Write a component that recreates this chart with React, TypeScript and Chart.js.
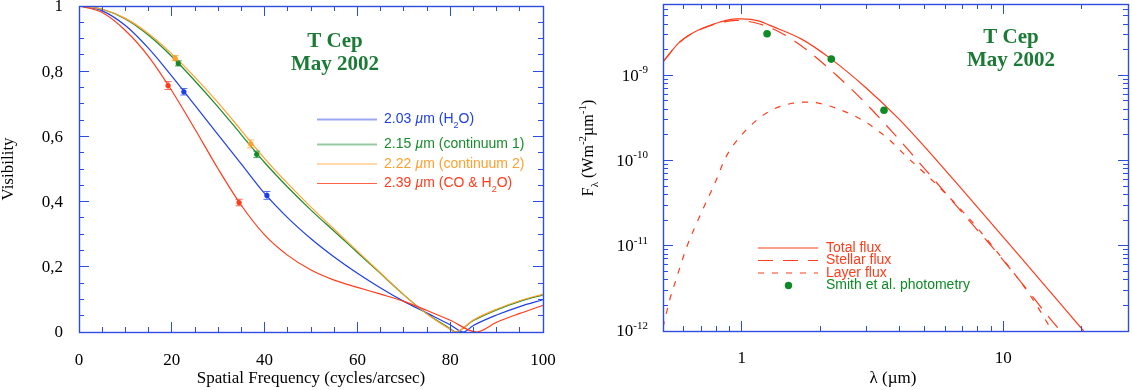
import { useEffect, useRef } from 'react';
import { Chart, registerables } from 'chart.js';

Chart.register(...registerables);

// ---------------- Left panel: visibility vs spatial frequency ----------------
const FREQ_BLUE = [0, 5, 10, 15, 20, 25, 30, 35, 40, 45, 50, 55, 60, 65, 70, 75, 80, 82.8, 85, 90, 95, 100];
const VIS_BLUE = [1, 0.985, 0.94, 0.87, 0.785, 0.695, 0.605, 0.515, 0.425, 0.35, 0.286, 0.23, 0.18, 0.135, 0.094, 0.058, 0.022, 0, 0.02, 0.052, 0.078, 0.099];

const FREQ_GREEN = [0, 5, 10, 15, 20, 25, 30, 35, 40, 45, 50, 55, 60, 65, 70, 75, 80, 81.1, 85, 90, 95, 100];
const VIS_GREEN = [1, 0.99, 0.96, 0.91, 0.845, 0.77, 0.69, 0.605, 0.52, 0.444, 0.374, 0.309, 0.244, 0.179, 0.114, 0.056, 0.01, 0, 0.035, 0.068, 0.094, 0.114];

const FREQ_ORANGE = [0, 5, 10, 15, 20, 25, 30, 35, 40, 45, 50, 55, 60, 65, 70, 75, 80, 81.1, 85, 90, 95, 100];
const VIS_ORANGE = [1, 0.99, 0.962, 0.915, 0.853, 0.781, 0.703, 0.618, 0.532, 0.455, 0.383, 0.315, 0.248, 0.181, 0.114, 0.055, 0.008, 0, 0.037, 0.07, 0.096, 0.116];

const FREQ_RED = [0, 5, 10, 15, 20, 25, 30, 35, 40, 45, 50, 55, 60, 65, 70, 75, 80, 85.7, 90, 95, 100];
const VIS_RED = [1, 0.98, 0.925, 0.845, 0.74, 0.622, 0.5, 0.388, 0.298, 0.235, 0.19, 0.159, 0.137, 0.116, 0.094, 0.066, 0.036, 0, 0.03, 0.057, 0.082];

// measured points with error bars
const OBS_FREQ_BLUE = [22.6, 40.5];
const OBS_VIS_BLUE = [0.737, 0.419];
const OBS_ERR_BLUE = [0.01, 0.012];
const OBS_FREQ_GREEN = [21.4, 38.3];
const OBS_VIS_GREEN = [0.824, 0.545];
const OBS_ERR_GREEN = [0.008, 0.01];
const OBS_FREQ_ORANGE = [20.7, 37.0];
const OBS_VIS_ORANGE = [0.84, 0.577];
const OBS_ERR_ORANGE = [0.008, 0.012];
const OBS_FREQ_RED = [19.2, 34.5];
const OBS_VIS_RED = [0.756, 0.397];
const OBS_ERR_RED = [0.012, 0.01];

const LEFT_X_TICKS = [0, 20, 40, 60, 80, 100];
const LEFT_X_LABELS = ['0', '20', '40', '60', '80', '100'];
const LEFT_Y_TICKS = [0, 0.2, 0.4, 0.6, 0.8, 1];
const LEFT_Y_LABELS = ['0', '0,2', '0,4', '0,6', '0,8', '1'];

// ---------------- Right panel: spectral energy distribution ----------------
const TOTAL_LAMBDA = [0.5, 0.58, 0.69, 0.823, 0.95, 1.0, 1.17, 1.274, 1.7, 2.2, 2.97, 3.97, 5.0, 6.51, 11.67, 20.3];
const TOTAL_FLUX = [1.44e-9, 2.47e-9, 3.45e-9, 4.2e-9, 4.6e-9, 4.6e-9, 4.33e-9, 3.88e-9, 2.64e-9, 1.55e-9, 7.25e-10, 3.13e-10, 1.46e-10, 5.8e-11, 7.3e-12, 1e-12];

const STELLAR_LAMBDA = [0.5, 0.58, 0.69, 0.823, 0.95, 1.17, 1.45, 1.78, 2.31, 2.97, 3.74, 4.52, 5.8, 7.32, 9.1, 12.0, 15.85, 16.6];
const STELLAR_FLUX = [1.44e-9, 2.46e-9, 3.42e-9, 4.12e-9, 4.42e-9, 4.0e-9, 3.02e-9, 1.97e-9, 9.95e-10, 4.74e-10, 2.22e-10, 1.15e-10, 4.74e-11, 2.06e-11, 9.55e-12, 3.4e-12, 1.17e-12, 1.0e-12];

const LAYER_LAMBDA = [0.5, 0.53, 0.565, 0.615, 0.69, 0.79, 0.87, 1.0, 1.24, 1.56, 1.8, 2.28, 2.97, 3.74, 4.21, 5.47, 7.11, 9.25, 12.7, 15.4];
const LAYER_FLUX = [1.1e-12, 2.3e-12, 4.3e-12, 9.5e-12, 2.2e-11, 5.45e-11, 1.1e-10, 2.0e-10, 3.6e-10, 4.7e-10, 4.85e-10, 4.15e-10, 2.84e-10, 1.66e-10, 1.16e-10, 5.5e-11, 2.4e-11, 9.3e-12, 2.6e-12, 1.0e-12];

const PHOT_LAMBDA = [1.25, 2.2, 3.5];
const PHOT_FLUX = [3.08e-9, 1.55e-9, 3.89e-10];

const RIGHT_X_TICKS = [1, 10];
const RIGHT_X_LABELS = ['1', '10'];
const RIGHT_Y_EXPONENTS = [-12, -11, -10, -9];

const TITLE_LINES = ['T Cep', 'May 2002'];

type Seg = { t: string; i?: boolean; sub?: boolean; sup?: boolean };

const LEFT_LEGEND: Seg[][] = [
  [{ t: '2.03 ' }, { t: 'µ', i: true }, { t: 'm (H' }, { t: '2', sub: true }, { t: 'O)' }],
  [{ t: '2.15 ' }, { t: 'µ', i: true }, { t: 'm (continuum 1)' }],
  [{ t: '2.22 ' }, { t: 'µ', i: true }, { t: 'm (continuum 2)' }],
  [{ t: '2.39 ' }, { t: 'µ', i: true }, { t: 'm (CO & H' }, { t: '2', sub: true }, { t: 'O)' }],
];
const RIGHT_LEGEND = ['Total flux', 'Stellar flux', 'Layer flux', 'Smith et al. photometry'];

const X_TITLE_LEFT = 'Spatial Frequency (cycles/arcsec)';
const Y_TITLE_LEFT = 'Visibility';
const X_TITLE_RIGHT: Seg[] = [{ t: 'λ (µm)' }];
const Y_TITLE_RIGHT: Seg[] = [{ t: 'F' }, { t: 'λ', sub: true }, { t: ' (Wm' }, { t: '-2', sup: true }, { t: 'µm' }, { t: '-1', sup: true }, { t: ')' }];

// ---------------- styling ----------------
const SERIF = '"Liberation Serif", "DejaVu Serif", serif';
const SANS = '"Liberation Sans", Arial, sans-serif';
const FRAME = '#2d4de0';
const C_BLUE = '#1f3fe6';
const C_GREEN = '#178a2a';
const C_ORANGE = '#ffa02e';
const C_RED = '#ff3c1c';
const C_TITLE = '#1b7a35';
const C_PHOT = '#0e8a26';

function pts(xs: number[], ys: number[]) {
  return xs.map((x, i) => ({ x, y: ys[i] }));
}

function crisp(v: number) {
  return Math.round(v - 0.5) + 0.5;
}

function drawRich(ctx: CanvasRenderingContext2D, segs: Seg[], x: number, y: number, size: number, family: string, color: string, align: 'left' | 'center' | 'right', weight = 'normal') {
  const small = Math.round(size * 0.66);
  const fontFor = (s: Seg) => `${s.i ? 'italic ' : ''}${weight} ${s.sub || s.sup ? small : size}px ${family}`;
  let total = 0;
  const widths = segs.map((s) => {
    ctx.font = fontFor(s);
    const w = ctx.measureText(s.t).width;
    total += w;
    return w;
  });
  let cx = align === 'left' ? x : align === 'center' ? x - total / 2 : x - total;
  ctx.fillStyle = color;
  ctx.textAlign = 'left';
  ctx.textBaseline = 'middle';
  segs.forEach((s, k) => {
    ctx.font = fontFor(s);
    const dy = s.sub ? size * 0.4 : s.sup ? -size * 0.36 : 0;
    ctx.fillText(s.t, cx, y + dy);
    cx += widths[k];
  });
}

function drawFrameTicks(chart: any, xt: { v: number; major: boolean }[], yt: { v: number; major: boolean }[]) {
  const { ctx, chartArea: a, scales } = chart;
  ctx.save();
  ctx.strokeStyle = FRAME;
  ctx.lineWidth = 1;
  ctx.beginPath();
  xt.forEach((t) => {
    const x = crisp(scales.x.getPixelForValue(t.v));
    const len = t.major ? 10 : 5;
    ctx.moveTo(x, a.bottom);
    ctx.lineTo(x, a.bottom - len);
    ctx.moveTo(x, a.top);
    ctx.lineTo(x, a.top + len);
  });
  yt.forEach((t) => {
    const y = crisp(scales.y.getPixelForValue(t.v));
    const len = t.major ? 10 : 5;
    ctx.moveTo(a.left, y);
    ctx.lineTo(a.left + len, y);
    ctx.moveTo(a.right, y);
    ctx.lineTo(a.right - len, y);
  });
  ctx.stroke();
  ctx.lineWidth = 1.4;
  ctx.strokeRect(crisp(a.left), crisp(a.top), Math.round(a.right - a.left), Math.round(a.bottom - a.top));
  ctx.restore();
}

function drawTitle(ctx: CanvasRenderingContext2D, cx: number, y0: number) {
  ctx.save();
  ctx.fillStyle = C_TITLE;
  ctx.font = `bold 21px ${SERIF}`;
  ctx.textAlign = 'center';
  ctx.textBaseline = 'middle';
  TITLE_LINES.forEach((line, i) => ctx.fillText(line, cx, y0 + i * 22.5));
  ctx.restore();
}

const OBS = [
  { xs: OBS_FREQ_BLUE, ys: OBS_VIS_BLUE, es: OBS_ERR_BLUE, c: C_BLUE },
  { xs: OBS_FREQ_GREEN, ys: OBS_VIS_GREEN, es: OBS_ERR_GREEN, c: C_GREEN },
  { xs: OBS_FREQ_ORANGE, ys: OBS_VIS_ORANGE, es: OBS_ERR_ORANGE, c: C_ORANGE },
  { xs: OBS_FREQ_RED, ys: OBS_VIS_RED, es: OBS_ERR_RED, c: C_RED },
];

const leftPlugin = {
  id: 'leftDecor',
  afterDatasetsDraw(chart: any) {
    const { ctx, scales } = chart;
    ctx.save();
    OBS.forEach((o) => {
      o.xs.forEach((xv, i) => {
        const x = scales.x.getPixelForValue(xv);
        const y1 = scales.y.getPixelForValue(o.ys[i] + o.es[i]);
        const y2 = scales.y.getPixelForValue(o.ys[i] - o.es[i]);
        ctx.strokeStyle = o.c;
        ctx.globalAlpha = 0.75;
        ctx.lineWidth = 1;
        ctx.beginPath();
        ctx.moveTo(x, y1);
        ctx.lineTo(x, y2);
        ctx.moveTo(x - 3.5, y1);
        ctx.lineTo(x + 3.5, y1);
        ctx.moveTo(x - 3.5, y2);
        ctx.lineTo(x + 3.5, y2);
        ctx.stroke();
      });
    });
    ctx.restore();
  },
  afterDraw(chart: any) {
    const { ctx, scales } = chart;
    const xt: { v: number; major: boolean }[] = [];
    for (let v = 0; v <= 100; v += 5) xt.push({ v, major: v % 20 === 0 });
    const yt: { v: number; major: boolean }[] = [];
    for (let k = 0; k <= 20; k++) yt.push({ v: k / 20, major: k % 4 === 0 });
    drawFrameTicks(chart, xt, yt);

    ctx.save();
    ctx.fillStyle = '#000';
    ctx.font = `17px ${SERIF}`;
    ctx.textBaseline = 'middle';
    ctx.textAlign = 'center';
    LEFT_X_TICKS.forEach((v, i) => ctx.fillText(LEFT_X_LABELS[i], scales.x.getPixelForValue(v), 361));
    ctx.textAlign = 'right';
    LEFT_Y_TICKS.forEach((v, i) => ctx.fillText(LEFT_Y_LABELS[i], 63, scales.y.getPixelForValue(v) + 1));
    ctx.textAlign = 'center';
    ctx.font = `17px ${SERIF}`;
    ctx.fillText(X_TITLE_LEFT, 311, 379);
    ctx.translate(9, 169);
    ctx.rotate(-Math.PI / 2);
    ctx.fillText(Y_TITLE_LEFT, 0, 0);
    ctx.restore();

    ctx.save();
    drawTitle(ctx, 335, 42);
    const rows = [119.5, 144.5, 164, 183.5];
    const cols = [C_BLUE, C_GREEN, C_ORANGE, C_RED];
    const widths = [2, 2, 1, 1];
    LEFT_LEGEND.forEach((segs, i) => {
      ctx.save();
      ctx.strokeStyle = cols[i];
      ctx.globalAlpha = widths[i] === 2 ? 0.45 : 0.8;
      ctx.lineWidth = widths[i];
      ctx.beginPath();
      ctx.moveTo(317, rows[i]);
      ctx.lineTo(377, rows[i]);
      ctx.stroke();
      ctx.restore();
      drawRich(ctx, segs, 384, rows[i], 14, SANS, cols[i], 'left');
    });
    ctx.restore();
  },
};

const rightPlugin = {
  id: 'rightDecor',
  afterDraw(chart: any) {
    const { ctx, scales } = chart;
    const xt: { v: number; major: boolean }[] = [];
    for (let e = -1; e <= 1; e++) {
      for (let k = 1; k <= 9; k++) {
        const v = k * Math.pow(10, e);
        if (v >= 0.5 && v <= 30) xt.push({ v, major: k === 1 });
      }
    }
    const yt: { v: number; major: boolean }[] = [];
    for (let e = -12; e <= -9; e++) {
      for (let k = 1; k <= 9; k++) {
        const v = k * Math.pow(10, e);
        if (v <= 6.87e-9) yt.push({ v, major: k === 1 });
      }
    }
    drawFrameTicks(chart, xt, yt);

    ctx.save();
    ctx.fillStyle = '#000';
    ctx.font = `17px ${SERIF}`;
    ctx.textBaseline = 'middle';
    ctx.textAlign = 'center';
    RIGHT_X_TICKS.forEach((v, i) => ctx.fillText(RIGHT_X_LABELS[i], scales.x.getPixelForValue(v), 359));
    RIGHT_Y_EXPONENTS.forEach((e) => {
      drawRich(ctx, [{ t: '10' }, { t: String(e), sup: true }], 88, scales.y.getPixelForValue(Math.pow(10, e)) + 1, 17, SERIF, '#000', 'right');
    });
    drawRich(ctx, X_TITLE_RIGHT, 333, 379, 17, SERIF, '#000', 'center');
    ctx.translate(29, 148);
    ctx.rotate(-Math.PI / 2);
    drawRich(ctx, Y_TITLE_RIGHT, 0, 0, 16, SERIF, '#000', 'center');
    ctx.restore();

    ctx.save();
    drawTitle(ctx, 451, 38);
    const rows = [248, 260.5, 273, 285.5];
    const dashes = [[], [15, 10], [6, 8]];
    dashes.forEach((d, i) => {
      ctx.save();
      ctx.strokeStyle = C_RED;
      ctx.lineWidth = 1.2;
      ctx.setLineDash(d);
      ctx.beginPath();
      ctx.moveTo(198, rows[i]);
      ctx.lineTo(258, rows[i]);
      ctx.stroke();
      ctx.restore();
    });
    ctx.fillStyle = C_PHOT;
    ctx.beginPath();
    ctx.arc(228.5, rows[3], 3.7, 0, Math.PI * 2);
    ctx.fill();
    RIGHT_LEGEND.forEach((label, i) => {
      drawRich(ctx, [{ t: label }], 266, rows[i], 14, SANS, i < 3 ? C_RED : C_PHOT, 'left');
    });
    ctx.restore();
  },
};

function curve(label: string, xs: number[], ys: number[], color: string, order: number, dash: number[] = []) {
  return {
    type: 'line' as const,
    label,
    order,
    data: pts(xs, ys),
    borderColor: color,
    borderWidth: 1.2,
    borderDash: dash,
    pointRadius: 0,
    fill: false,
    cubicInterpolationMode: 'monotone' as const,
  };
}

function dots(label: string, xs: number[], ys: number[], color: string, r: number, order: number) {
  return {
    type: 'line' as const,
    label,
    order,
    data: pts(xs, ys),
    showLine: false,
    borderColor: color,
    backgroundColor: color,
    pointBackgroundColor: color,
    pointBorderWidth: 0,
    pointRadius: r,
  };
}

export default function App() {
  const leftRef = useRef<HTMLCanvasElement>(null);
  const rightRef = useRef<HTMLCanvasElement>(null);

  useEffect(() => {
    const left = new Chart(leftRef.current as HTMLCanvasElement, {
      type: 'line',
      data: {
        datasets: [
          curve('2.03 µm (H2O)', FREQ_BLUE, VIS_BLUE, C_BLUE, 5),
          curve('2.15 µm (continuum 1)', FREQ_GREEN, VIS_GREEN, C_GREEN, 6),
          curve('2.22 µm (continuum 2)', FREQ_ORANGE, VIS_ORANGE, C_ORANGE, 4),
          curve('2.39 µm (CO & H2O)', FREQ_RED, VIS_RED, C_RED, 3),
          dots('obs 2.03', OBS_FREQ_BLUE, OBS_VIS_BLUE, C_BLUE, 2.6, 1),
          dots('obs 2.15', OBS_FREQ_GREEN, OBS_VIS_GREEN, C_GREEN, 2.6, 1),
          dots('obs 2.22', OBS_FREQ_ORANGE, OBS_VIS_ORANGE, C_ORANGE, 2.6, 1),
          dots('obs 2.39', OBS_FREQ_RED, OBS_VIS_RED, C_RED, 2.6, 1),
        ] as any,
      },
      options: {
        responsive: false,
        animation: false,
        layout: { padding: { left: 79, right: 17, top: 6, bottom: 58 } },
        plugins: { legend: { display: false }, tooltip: { enabled: false } },
        scales: {
          x: { type: 'linear', min: 0, max: 100, display: false },
          y: { type: 'linear', min: 0, max: 1, display: false },
        },
      },
      plugins: [leftPlugin],
    });

    const right = new Chart(rightRef.current as HTMLCanvasElement, {
      type: 'line',
      data: {
        datasets: [
          curve('Total flux', TOTAL_LAMBDA, TOTAL_FLUX, C_RED, 2),
          curve('Stellar flux', STELLAR_LAMBDA, STELLAR_FLUX, C_RED, 3, [15, 10]),
          curve('Layer flux', LAYER_LAMBDA, LAYER_FLUX, C_RED, 4, [6, 8]),
          dots('Smith et al. photometry', PHOT_LAMBDA, PHOT_FLUX, C_PHOT, 3.8, 1),
        ] as any,
      },
      options: {
        responsive: false,
        animation: false,
        layout: { padding: { left: 103, right: 1, top: 1, bottom: 59 } },
        plugins: { legend: { display: false }, tooltip: { enabled: false } },
        scales: {
          x: { type: 'logarithmic', min: 0.5, max: 30, display: false },
          y: { type: 'logarithmic', min: 1e-12, max: 6.87e-9, display: false },
        },
      },
      plugins: [rightPlugin],
    });

    return () => {
      left.destroy();
      right.destroy();
    };
  }, []);

  return (
    <div style={{ position: 'absolute', left: 0, top: 0, width: 1132, height: 390, background: '#ffffff' }}>
      <canvas ref={leftRef} width={560} height={390} style={{ position: 'absolute', left: 0, top: 0, width: 560, height: 390 }} />
      <canvas ref={rightRef} width={572} height={390} style={{ position: 'absolute', left: 560, top: 0, width: 572, height: 390 }} />
    </div>
  );
}
